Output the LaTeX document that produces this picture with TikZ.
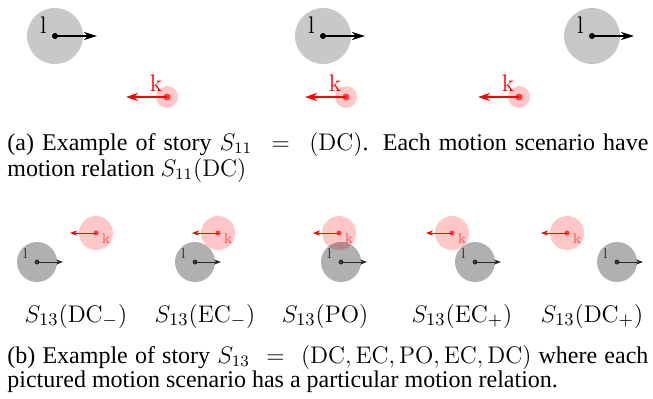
\documentclass[tikz,border=0pt]{standalone}
\usepackage[no-math]{fontspec}
\setmainfont{Liberation Serif}
\usepackage{amsmath}
\usetikzlibrary{arrows.meta,calc}
\definecolor{discgray}{HTML}{C8C8C8}
\definecolor{discpink}{HTML}{FFC8C8}
\definecolor{dotred}{HTML}{FF3B3B}
\definecolor{labred}{HTML}{FF5050}

\begin{document}
\hyphenpenalty=10000
\exhyphenpenalty=10000
\begin{tikzpicture}[x=0.5pt,y=-0.5pt,
  ldisc/.style={circle,fill=discgray,inner sep=0pt,minimum size=28pt},
  kdisc/.style={circle,fill=discpink,inner sep=0pt,minimum size=11pt},
  ldot/.style={circle,fill=black,inner sep=0pt,minimum size=3pt},
  kdot/.style={circle,fill=dotred,inner sep=0pt,minimum size=3.5pt},
  lmove/.style={draw=black,line width=0.9pt,-{Stealth[length=6.5pt,width=4pt,inset=2pt]}},
  kmove/.style={draw=red,line width=0.9pt,-{Stealth[length=6pt,width=4pt,inset=2pt]}},
  llab/.style={anchor=base,inner sep=0pt,font=\fontsize{11.5}{12}\selectfont},
  klab/.style={anchor=base,inner sep=0pt,text=red,font=\fontsize{11.5}{12}\selectfont},
  % small scenarios of story S13
  sldisc/.style={circle,fill=black,fill opacity=0.31,inner sep=0pt,minimum size=20pt},
  skdisc/.style={circle,fill=red,fill opacity=0.22,inner sep=0pt,minimum size=17pt},
  sldot/.style={circle,fill=black!80,inner sep=0pt,minimum size=2.5pt},
  skdot/.style={circle,fill=dotred,inner sep=0pt,minimum size=2.5pt},
  slmove/.style={draw=black!85,line width=0.5pt,-{Stealth[length=3.5pt,width=2.6pt,inset=1pt]}},
  skmove/.style={draw=red,line width=0.5pt,-{Stealth[length=3.5pt,width=2.6pt,inset=1pt]}},
  sllab/.style={anchor=base,inner sep=0pt,text=black!80,font=\fontsize{7}{8}\selectfont},
  sklab/.style={anchor=base,inner sep=0pt,text=labred,font=\fontsize{7}{8}\selectfont},
  rel/.style={anchor=base,inner sep=0pt,font=\fontsize{12.6}{13}\selectfont},
  captext/.style={anchor=base west,inner sep=0pt,text width=320.5pt,align=justify,
    font=\fontsize{12}{11.25}\selectfont}
]
\useasboundingbox (0,0) rectangle (653,398);

% (a) story S11
\node[ldisc] (l1b) at (55,36) {};
\node[ldisc] (l2b) at (323,36) {};
\node[ldisc] (l3b) at (592,36) {};
\node[ldot] (l1) at (l1b) {};
\node[ldot] (l2) at (l2b) {};
\node[ldot] (l3) at (l3b) {};
\coordinate (l1e) at ($(l1)+(42,0)$);
\coordinate (l2e) at ($(l2)+(42,0)$);
\coordinate (l3e) at ($(l3)+(42,0)$);
\draw[lmove] (l1.center) -- (l1e);
\draw[lmove] (l2.center) -- (l2e);
\draw[lmove] (l3.center) -- (l3e);
\node[llab] at ($(l1)+(-11.5,-3)$) {$\mathrm{l}$};
\node[llab] at ($(l2)+(-11.5,-3)$) {$\mathrm{l}$};
\node[llab] at ($(l3)+(-11.5,-3)$) {$\mathrm{l}$};

\node[kdisc] (k1b) at (167,97) {};
\node[kdisc] (k2b) at (346,97) {};
\node[kdisc] (k3b) at (519,97) {};
\node[kdot] (k1) at (k1b) {};
\node[kdot] (k2) at (k2b) {};
\node[kdot] (k3) at (k3b) {};
\coordinate (k1e) at ($(k1)+(-41,0)$);
\coordinate (k2e) at ($(k2)+(-41,0)$);
\coordinate (k3e) at ($(k3)+(-41,0)$);
\draw[kmove] (k1.center) -- (k1e);
\draw[kmove] (k2.center) -- (k2e);
\draw[kmove] (k3.center) -- (k3e);
\node[klab] at ($(k1)+(-11,-5.5)$) {$\mathrm{k}$};
\node[klab] at ($(k2)+(-11,-5.5)$) {$\mathrm{k}$};
\node[klab] at ($(k3)+(-11,-5.5)$) {$\mathrm{k}$};

\node[captext] (capa) at (7,150) {(a) Example of story $S_{11}\ =\ (\mathrm{DC})$. Each motion scenario have motion relation $S_{11}(\mathrm{DC})$};

% (b) story S13
\node[skdisc] (m1b) at (96,233) {};
\node[skdisc] (m2b) at (218,233) {};
\node[skdisc] (m3b) at (339,233) {};
\node[skdisc] (m4b) at (452,233) {};
\node[skdisc] (m5b) at (567,233) {};
\node[sldisc] (n1b) at (37,262) {};
\node[sldisc] (n2b) at (195,262) {};
\node[sldisc] (n3b) at (341,262) {};
\node[sldisc] (n4b) at (475,262) {};
\node[sldisc] (n5b) at (617,262) {};

\node[skdot] (m1) at (m1b) {};
\node[skdot] (m2) at (m2b) {};
\node[skdot] (m3) at (m3b) {};
\node[skdot] (m4) at (m4b) {};
\node[skdot] (m5) at (m5b) {};
\coordinate (m1e) at ($(m1)+(-26,0)$);
\coordinate (m2e) at ($(m2)+(-26,0)$);
\coordinate (m3e) at ($(m3)+(-26,0)$);
\coordinate (m4e) at ($(m4)+(-26,0)$);
\coordinate (m5e) at ($(m5)+(-26,0)$);
\draw[skmove] (m1.center) -- (m1e);
\draw[skmove] (m2.center) -- (m2e);
\draw[skmove] (m3.center) -- (m3e);
\draw[skmove] (m4.center) -- (m4e);
\draw[skmove] (m5.center) -- (m5e);
\node[sklab] at ($(m1)+(10,10)$) {$\mathrm{k}$};
\node[sklab] at ($(m2)+(10,10)$) {$\mathrm{k}$};
\node[sklab] at ($(m3)+(10,10)$) {$\mathrm{k}$};
\node[sklab] at ($(m4)+(10,10)$) {$\mathrm{k}$};
\node[sklab] at ($(m5)+(10,10)$) {$\mathrm{k}$};

\node[sldot] (n1) at (n1b) {};
\node[sldot] (n2) at (n2b) {};
\node[sldot] (n3) at (n3b) {};
\node[sldot] (n4) at (n4b) {};
\node[sldot] (n5) at (n5b) {};
\coordinate (n1e) at ($(n1)+(26,0)$);
\coordinate (n2e) at ($(n2)+(26,0)$);
\coordinate (n3e) at ($(n3)+(26,0)$);
\coordinate (n4e) at ($(n4)+(26,0)$);
\coordinate (n5e) at ($(n5)+(26,0)$);
\draw[slmove] (n1.center) -- (n1e);
\draw[slmove] (n2.center) -- (n2e);
\draw[slmove] (n3.center) -- (n3e);
\draw[slmove] (n4.center) -- (n4e);
\draw[slmove] (n5.center) -- (n5e);
\node[sllab] at ($(n1)+(-11.5,-4)$) {$\mathrm{l}$};
\node[sllab] at ($(n2)+(-11.5,-4)$) {$\mathrm{l}$};
\node[sllab] at ($(n3)+(-11.5,-4)$) {$\mathrm{l}$};
\node[sllab] at ($(n4)+(-11.5,-4)$) {$\mathrm{l}$};
\node[sllab] at ($(n5)+(-11.5,-4)$) {$\mathrm{l}$};

\node[rel] (r1) at (76,322) {$S_{13}(\mathrm{DC}_{-})$};
\node[rel] (r2) at (205,322) {$S_{13}(\mathrm{EC}_{-})$};
\node[rel] (r3) at (325,322) {$S_{13}(\mathrm{PO})$};
\node[rel] (r4) at (462,322) {$S_{13}(\mathrm{EC}_{+})$};
\node[rel] (r5) at (592,322) {$S_{13}(\mathrm{DC}_{+})$};

\node[captext] (capb) at (7,363) {(b) Example of story $S_{13}\ =\ (\mathrm{DC},\mathrm{EC},\mathrm{PO},\mathrm{EC},\mathrm{DC})$ where each pictured motion scenario has a particular motion relation.};
\end{tikzpicture}
\end{document}
